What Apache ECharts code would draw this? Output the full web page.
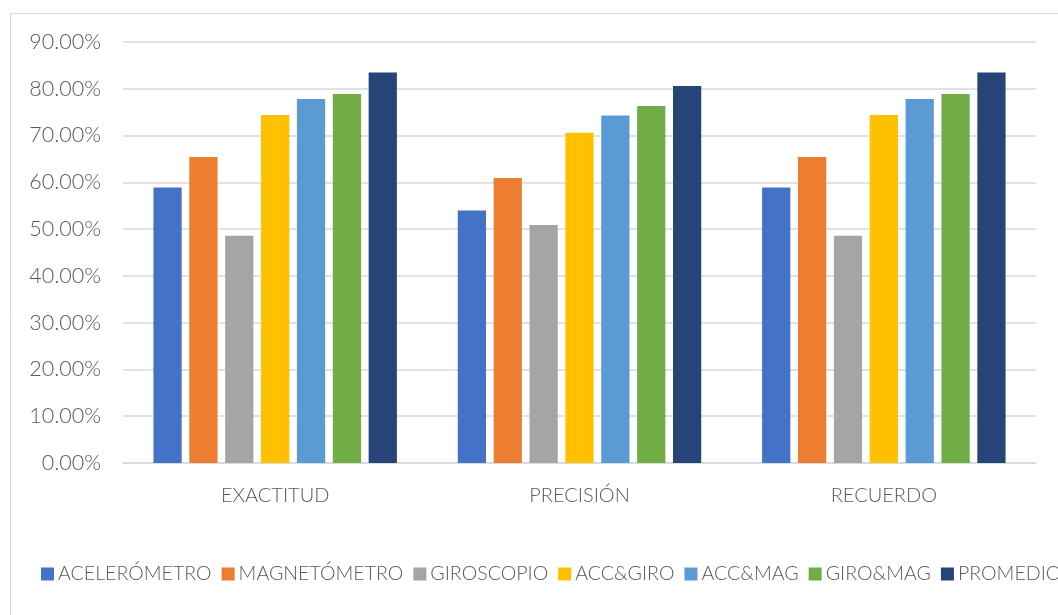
<!DOCTYPE html>
<html>
<head>
<meta charset="utf-8">
<script src="https://cdn.jsdelivr.net/npm/echarts@6/dist/echarts.min.js"></script>
<style>
  html, body { margin: 0; padding: 0; background: #fff; }
  #main { width: 1058px; height: 615px; }
</style>
</head>
<body>
<div id="main"></div>
<script>
// categorias del eje x
var categorias = ['EXACTITUD', 'PRECISIÓN', 'RECUERDO'];

// valores en % por sensor
var acelerometro = [58.9, 54.0, 58.9];
var magnetometro = [65.4, 60.9, 65.4];
var giroscopio = [48.6, 50.9, 48.6];
var accGiro = [74.4, 70.6, 74.4];
var accMag = [77.8, 74.3, 77.8];
var giroMag = [78.9, 76.3, 78.9];
var promedio = [83.5, 80.6, 83.5];

var nombres = ['ACELERÓMETRO', 'MAGNETÓMETRO', 'GIROSCOPIO', 'ACC&GIRO', 'ACC&MAG', 'GIRO&MAG', 'PROMEDIO'];
var colores = ['#4472C4', '#ED7D31', '#A5A5A5', '#FFC000', '#5B9BD5', '#70AD47', '#264478'];
var datos = [acelerometro, magnetometro, giroscopio, accGiro, accMag, giroMag, promedio];

var fuente = 'Lato, "Liberation Sans", sans-serif';

var series = datos.map(function (d, i) {
  return {
    name: nombres[i],
    type: 'bar',
    data: d,
    barGap: '27%',
    barCategoryGap: '20%',
    itemStyle: { color: colores[i] }
  };
});

var option = {
  animation: false,
  color: colores,
  graphic: [{
    type: 'rect',
    shape: { x: 10.5, y: 13.5, width: 1200, height: 800 },
    style: { fill: 'none', stroke: '#d9d9d9', lineWidth: 1 },
    silent: true
  }],
  grid: { left: 123, right: 22, top: 42, bottom: 152, containLabel: false },
  legend: {
    left: 36,
    top: 559,
    width: 1400,
    itemWidth: 13,
    itemHeight: 13,
    itemGap: 10,
    icon: 'rect',
    textStyle: { color: '#595959', fontSize: 19.6, fontFamily: fuente, fontWeight: 300, padding: [0, 0, 0, -1] },
    data: nombres
  },
  xAxis: {
    type: 'category',
    data: categorias,
    axisLine: { lineStyle: { color: '#d9d9d9', width: 1.5 } },
    axisTick: { show: false },
    axisLabel: { color: '#595959', fontSize: 20, fontFamily: fuente, fontWeight: 300, margin: 23 }
  },
  yAxis: {
    type: 'value',
    min: 0,
    max: 90,
    interval: 10,
    axisLine: { show: false },
    axisTick: { show: false },
    splitLine: { lineStyle: { color: '#d9d9d9', width: 1.5 } },
    axisLabel: {
      color: '#595959', fontSize: 21.5, fontFamily: fuente, fontWeight: 300, margin: 22,
      formatter: function (v) { return v.toFixed(2) + '%'; }
    }
  },
  series: series
};

var myChart = echarts.init(document.getElementById('main'));
myChart.setOption(option);
</script>
</body>
</html>
